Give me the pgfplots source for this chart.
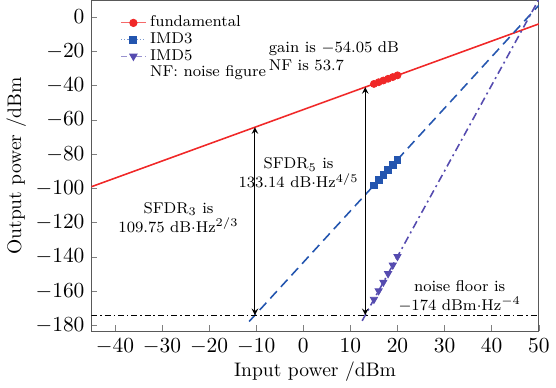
\documentclass[border=0pt]{standalone}
\usepackage{pgfplots}
\pgfplotsset{compat=1.18}
\definecolor{fred}{RGB}{240,40,40}
\definecolor{iblue}{RGB}{35,85,175}
\definecolor{ipurp}{RGB}{85,75,175}
\begin{document}
\begin{tikzpicture}
\begin{axis}[
  scale only axis,
  width=228.5pt, height=169pt,
  xmin=-45, xmax=50, ymin=-183.4, ymax=9.7,
  xtick={-40,-30,...,50}, ytick={-180,-160,...,0},
  tick pos=left, tick align=inside,
  major tick length=3pt,
  tick label style={font=\fontsize{10.8}{12}\selectfont},
  axis line style={gray!70!black},
  xlabel={Input power /dBm}, ylabel={Output power /dBm},
  xlabel style={yshift=3pt}, ylabel style={yshift=-2pt},
  legend style={draw=none, fill=none, font=\footnotesize, at={(0.06,0.972)}, anchor=north west, row sep=-2.5pt, inner sep=1pt},
  legend cell align=left,
  legend image code/.code={\draw[mark repeat=2,mark phase=2,#1] plot coordinates {(0cm,0cm) (0.22cm,0cm) (0.44cm,0cm)};},
]
\addlegendimage{fred!70, line width=0.6pt, mark=*, mark size=1.8pt, mark options={solid,fill=fred,draw=fred}}
\addlegendentry{fundamental}
\addlegendimage{iblue!60, densely dotted, line width=0.6pt, mark=square*, mark size=1.7pt, mark options={solid,fill=iblue,draw=iblue}}
\addlegendentry{IMD3}
\addlegendimage{ipurp!60, dashdotted, line width=0.6pt, mark=triangle*, mark size=2pt, mark options={solid,fill=ipurp,draw=ipurp,rotate=180}}
\addlegendentry{IMD5}
\addlegendimage{empty legend}
\addlegendentry{NF: noise figure}
% lines
\addplot[forget plot, fred, line width=0.8pt] coordinates {(-45,-99.05) (50,-4.05)};
\addplot[forget plot, iblue, line width=0.8pt, dash pattern=on 5pt off 3pt] coordinates {(-11.5,-177.7) (50,6.8)};
\addplot[forget plot, ipurp, line width=0.8pt, dash pattern=on 4pt off 2pt on 1pt off 2pt] coordinates {(12.5,-177.3) (50,10.2)};
\addplot[forget plot, black, line width=0.4pt, dash pattern=on 3pt off 1.5pt on 0.8pt off 1.5pt] coordinates {(-45,-174) (50,-174)};
% markers
\addplot[forget plot, only marks, mark=*, mark size=1.8pt, fred] coordinates {(15,-39.05) (16,-38.05) (17,-37.05) (18,-36.05) (19,-35.05) (20,-34.05)};
\addplot[forget plot, only marks, mark=square*, mark size=1.7pt, iblue] coordinates {(15,-98.2) (16,-95.2) (17,-92.2) (18,-89.2) (19,-86.2) (20,-83.2)};
\addplot[forget plot, only marks, mark=triangle*, mark size=2.1pt, mark options={rotate=180}, ipurp] coordinates {(15,-164.8) (16,-159.8) (17,-154.8) (18,-149.8) (19,-144.8) (20,-139.8)};
% arrows
\draw[<->, >=stealth, line width=0.5pt] (axis cs:-10.27,-174) -- (axis cs:-10.27,-64.32);
\draw[<->, >=stealth, line width=0.5pt] (axis cs:13.16,-174) -- (axis cs:13.16,-40.89);
% annotations
\node[anchor=west, font=\footnotesize, align=left, inner sep=0pt] at (axis cs:-7.4,-23) {gain is $-$54.05 dB\\NF is 53.7};
\node[font=\footnotesize, align=center, inner sep=0pt] at (axis cs:-26.5,-117) {SFDR$_3$ is\\109.75 dB$\cdot$Hz$^{2/3}$};
\node[font=\footnotesize, align=center, inner sep=0pt] at (axis cs:-1.0,-91) {SFDR$_5$ is\\133.14 dB$\cdot$Hz$^{4/5}$};
\node[font=\footnotesize, align=center, inner sep=0pt] at (axis cs:33.2,-163) {noise floor is\\$-$174 dBm$\cdot$Hz$^{-4}$};
\end{axis}
\end{tikzpicture}
\end{document}
